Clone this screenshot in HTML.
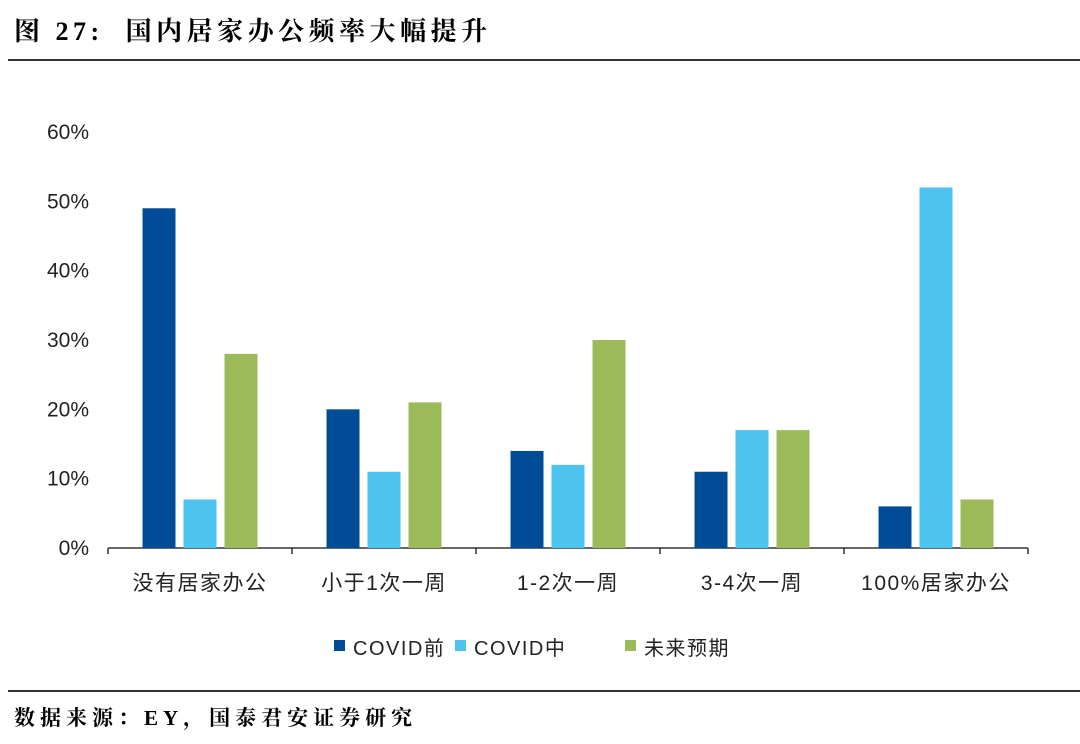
<!DOCTYPE html>
<html><head><meta charset="utf-8">
<style>
body{margin:0;width:1080px;height:744px;background:#fff;overflow:hidden;font-family:"Liberation Sans","Noto Sans CJK SC",sans-serif;}
.t{position:absolute;left:14px;top:11px;font-family:"Liberation Serif","Noto Serif CJK SC",serif;font-weight:bold;font-size:26px;letter-spacing:4.5px;color:#000;}
.s{position:absolute;left:14px;top:702px;font-family:"Liberation Serif","Noto Serif CJK SC",serif;font-weight:bold;font-size:21px;letter-spacing:5px;color:#000;}
.hl{position:absolute;left:8px;width:1072px;height:1.5px;background:#333;}
</style></head><body>
<div class="t">图 27:&nbsp; 国内居家办公频率大幅提升</div>
<div class="hl" style="top:59px"></div>
<div class="hl" style="top:690px"></div>
<div class="s">数据来源：EY，国泰君安证券研究</div>
<svg id="c" width="1080" height="744" style="position:absolute;left:0;top:0"></svg>
<script>
const categories=["没有居家办公","小于1次一周","1-2次一周","3-4次一周","100%居家办公"];
const seriesNames=["COVID前","COVID中","未来预期"];
const before=[49,20,14,11,6];
const during=[7,11,12,17,52];
const future=[28,21,30,17,7];
const yTicks=[0,10,20,30,40,50,60];
const colors=["#004c97","#4fc3f0","#9bbb59"];
const svg=document.getElementById('c');const NS="http://www.w3.org/2000/svg";
const x0=108,x1=1028,y0=548,y60=132;
const y=v=>y0-(v/60)*(y0-y60);
const gw=(x1-x0)/categories.length;
function mk(t,a,p){const e=document.createElementNS(NS,t);for(const k in a)e.setAttribute(k,a[k]);(p||svg).appendChild(e);return e;}
yTicks.forEach(v=>{const e=mk('text',{x:89,y:y(v)+7,'text-anchor':'end','font-size':21,fill:'#222'});e.textContent=v+'%';

});
const ax=mk('line',{x1:x0,y1:y0,x2:x1,y2:y0,stroke:'#333','stroke-width':1.5});


for(let i=0;i<=categories.length;i++){const t=mk('line',{x1:x0+i*gw,y1:y0,x2:x0+i*gw,y2:y0+6,stroke:'#333','stroke-width':1.5});

}
const series=[before,during,future];const bw=33,step=41;
categories.forEach((c,i)=>{const cx=x0+gw*(i+0.5);
series.forEach((s,j)=>{const bx=cx+(j-1)*step-bw/2;const r=mk('rect',{x:bx,y:y(s[i]),width:bw,height:y0-y(s[i]),fill:colors[j]});

});
const l=mk('text',{x:cx,y:590,'text-anchor':'middle','font-size':21,'letter-spacing':1.5,fill:'#222'});l.textContent=c;

});
const lx=[334,455,625];
seriesNames.forEach((n,j)=>{const r=mk('rect',{x:lx[j],y:640,width:11,height:11,fill:colors[j]});


const t=mk('text',{x:lx[j]+19,y:655,'font-size':20,'letter-spacing':1.5,fill:'#222'});t.textContent=n;

});
</script>
</body></html>
